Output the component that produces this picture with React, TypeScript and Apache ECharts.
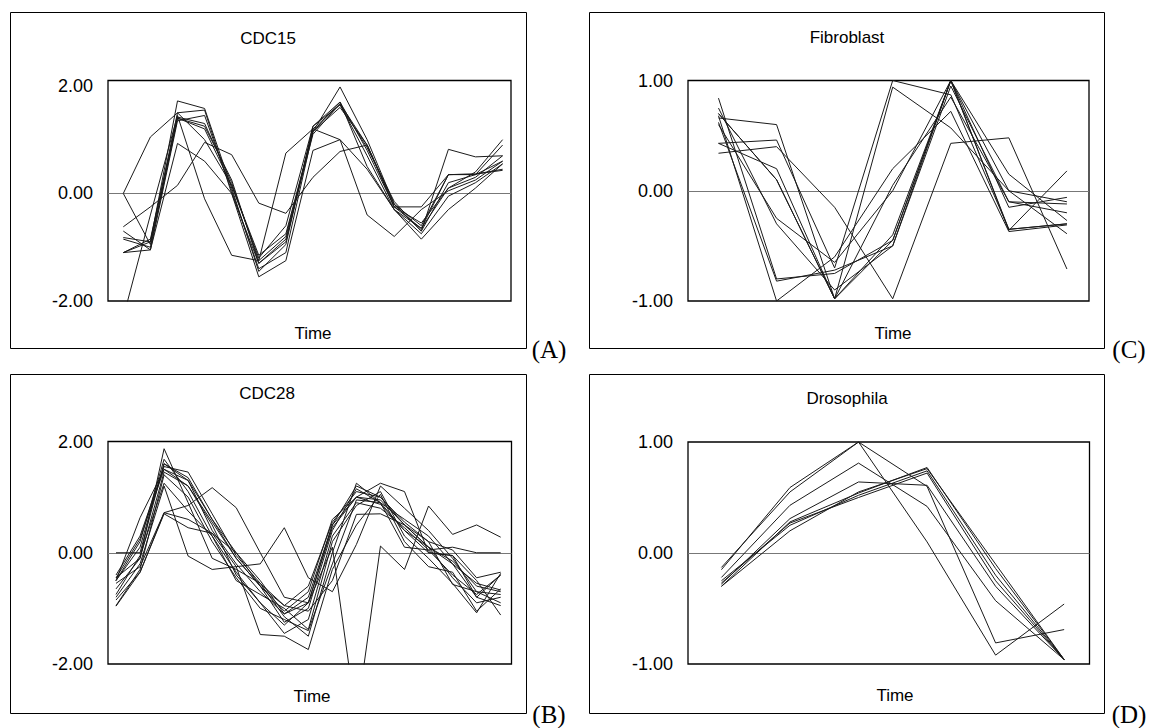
import React, { useEffect, useRef } from "react";
import * as echarts from "echarts";

// ---------- data ----------
const panelTitles = ["CDC15", "CDC28", "Fibroblast", "Drosophila"];
const panelTags = ["(A)", "(B)", "(C)", "(D)"];
const axisTitle = "Time";

const cdcTicks = [-2, 0, 2];
const cdcTickLabels = ["-2.00", "0.00", "2.00"];
const normTicks = [-1, 0, 1];
const normTickLabels = ["-1.00", "0.00", "1.00"];

const cdc15Series = [
  [0.0, 1.05, 1.5, 1.0, 0.15, -1.15, -0.75, 1.15, 1.7, 0.8, -0.25, -0.65, 0.1, 0.3, 0.7],
  [0.0, -0.95, 1.4, 1.25, 0.25, -1.3, -0.9, 1.2, 1.65, 0.85, -0.15, -0.7, 0.2, 0.35, 0.6],
  [-0.62, -0.25, 0.15, 0.95, 0.72, -0.18, -0.37, 0.3, 0.78, 0.9, -0.25, -0.25, 0.35, 0.36, 0.43],
  [-0.82, -0.9, 1.72, 1.58, 0.1, -1.45, -0.95, 1.25, 1.65, 0.7, -0.3, -0.75, -0.05, 0.2, 0.55],
  [-1.1, -0.85, 1.42, 1.3, 0.2, -1.25, -0.8, 1.15, 1.6, 0.9, -0.2, -0.6, 0.35, 0.35, 0.9],
  [-2.3, -0.4, 1.45, -0.1, -1.15, -1.25, 0.75, 1.2, 1.0, -0.4, -0.8, -0.3, 0.05, 0.25, 0.6],
  [-0.7, -1.05, 0.93, 0.6, 0.0, -1.55, -1.25, 0.8, 1.0, 0.45, -0.3, -0.85, -0.3, 0.1, 0.55],
  [-1.1, -1.05, 1.35, 1.45, 0.05, -1.4, -1.1, 1.15, 1.98, 1.0, -0.2, -0.7, 0.82, 0.68, 0.7],
  [-0.85, -1.0, 1.4, 1.2, 0.15, -1.2, -0.6, 1.25, 1.7, 0.5, -0.3, -0.65, 0.35, 0.36, 0.45],
  [-1.1, -0.9, 1.5, 1.55, 0.0, -1.3, -0.85, 1.1, 1.67, 0.9, -0.25, -0.55, 0.1, 0.4, 1.0],
];

const cdc28Series = [
  [0.0, 0.0, 1.6, 1.35, 0.6, -0.1, -0.6, -1.05, -0.7, 0.6, 1.0, 0.95, 0.5, 0.1, -0.15, -0.6, -0.7],
  [-0.5, 0.63, 1.5, 1.3, 0.4, -0.2, -0.7, -1.1, -0.8, 0.5, 1.2, 1.0, 0.5, 0.1, -0.2, -0.8, -0.95],
  [-0.45, -0.1, 1.87, 0.9, -0.1, -0.3, -0.55, -1.15, -1.5, 0.0, 1.25, 0.9, 0.1, 0.05, -0.4, -0.75, -0.4],
  [-0.8, -0.2, 1.2, -0.06, -0.3, -0.25, -1.47, -1.5, -1.74, -0.3, 0.5, 1.05, 0.2, -0.25, -0.35, -1.05, -0.65],
  [-0.55, -0.25, 0.72, 0.85, 1.17, 0.81, 0.0, -0.8, -0.9, 0.45, 1.0, 1.25, 1.1, 0.0, -0.05, -0.5, -1.12],
  [-0.96, -0.35, 0.72, 0.6, 0.35, -0.25, -0.2, 0.45, -0.45, -0.7, 0.15, 1.2, 0.8, 0.4, -0.1, -0.7, -0.75],
  [-0.65, -0.1, 1.45, 1.2, 0.5, -0.4, -0.9, -1.3, -0.9, 0.1, -3.0, 0.12, -0.3, 0.84, 0.33, 0.5, 0.28],
  [-0.95, -0.3, 1.4, 1.0, 0.2, -0.45, -1.0, -1.2, -1.4, -0.2, 0.95, 0.9, 0.4, 0.1, -0.45, -0.9, -0.8],
  [-0.4, 0.3, 1.55, 1.45, 0.7, -0.05, -0.55, -0.95, -0.6, 0.55, 1.1, 1.0, 0.55, 0.2, 0.05, -0.45, -0.35],
  [-0.5, 0.2, 1.68, 1.1, 0.3, -0.35, -0.9, -1.45, -1.2, 0.3, 0.9, 0.8, 0.45, 0.05, 0.1, 0.0, 0.0],
  [-0.75, -0.05, 1.25, 0.75, 0.3, -0.5, -0.75, -1.0, -1.38, 0.2, 0.85, 1.1, 0.3, -0.1, -0.55, -1.08, -0.37],
  [-0.45, 0.25, 1.5, 1.2, 0.55, -0.1, -0.6, -1.25, -1.0, 0.4, 1.15, 0.9, 0.6, 0.3, -0.2, -0.55, -0.67],
  [-0.85, -0.35, 0.7, 0.45, 0.35, 0.0, -0.6, -0.95, -1.05, -0.5, 0.69, 0.7, 0.5, 0.2, -0.57, -0.7, -0.9],
  [-0.5, 0.1, 1.6, 1.3, 0.6, 0.0, -0.5, -1.1, -0.9, 0.5, 1.0, 0.87, 0.4, 0.0, -0.05, -0.8, -0.4],
];

const fibroblastSeries = [
  [0.84, -0.8, -0.75, -0.45, 1.0, -0.35, -0.3],
  [0.66, 0.6, -0.98, -0.4, 1.0, 0.0, -0.1],
  [0.43, 0.46, -0.7, 1.0, 0.87, -0.35, -0.3],
  [0.34, 0.4, -0.15, -0.98, 0.43, 0.48, -0.71],
  [0.7, 0.1, -0.98, -0.45, 1.0, -0.36, 0.18],
  [0.6, -0.25, -0.65, 0.0, 1.0, 0.15, -0.27],
  [0.75, -0.3, -0.9, -0.5, 0.95, -0.1, -0.2],
  [0.43, 0.2, -0.98, 0.94, 0.57, 0.0, -0.39],
  [0.68, -1.0, -0.6, 0.2, 0.72, -0.37, -0.31],
  [0.62, -0.82, -0.72, -0.5, 1.0, -0.15, -0.06],
  [0.7, 0.1, -0.98, 0.05, 0.85, -0.1, -0.12],
];

const drosophilaSeries = [
  [-0.15, 0.59, 1.0, 0.1, -0.92, -0.46],
  [-0.13, 0.55, 1.0, 0.6, -0.81, -0.69],
  [-0.22, 0.43, 0.81, 0.42, -0.43, -0.96],
  [-0.28, 0.31, 0.64, 0.61, -0.3, -0.96],
  [-0.3, 0.28, 0.54, 0.77, -0.14, -0.96],
  [-0.25, 0.25, 0.52, 0.74, -0.2, -0.96],
  [-0.3, 0.2, 0.55, 0.76, -0.1, -0.96],
  [-0.27, 0.27, 0.5, 0.72, -0.25, -0.96],
];

// ---------- layout (positions / styles) ----------
const layouts = [
  { frame: [10, 12, 516, 336], grid: { left: 108, top: 80.5, width: 403, height: 220.5 }, xMin: -0.565, xMax: 14.31, yMin: -2, yMax: 2.1, title: [268, 38], time: [313, 333], tag: [549, 349] },
  { frame: [10, 374, 516, 339], grid: { left: 108, top: 441.5, width: 403.5, height: 222.5 }, xMin: -0.333, xMax: 16.45, yMin: -2, yMax: 2, title: [267, 393], time: [312, 696], tag: [549, 714] },
  { frame: [589, 12, 515, 336], grid: { left: 688, top: 80.5, width: 401, height: 220.5 }, xMin: -0.525, xMax: 6.38, yMin: -1, yMax: 1, title: [847, 37], time: [893, 333], tag: [1129, 349] },
  { frame: [589, 374, 515, 339], grid: { left: 688, top: 442, width: 401.5, height: 222 }, xMin: -0.488, xMax: 5.37, yMin: -1, yMax: 1, title: [847, 398], time: [895, 695], tag: [1129, 714] },
];

const panelData = [cdc15Series, cdc28Series, fibroblastSeries, drosophilaSeries];
const panelTicks = [cdcTicks, cdcTicks, normTicks, normTicks];
const panelTickLabels = [cdcTickLabels, cdcTickLabels, normTickLabels, normTickLabels];

const SANS = "Liberation Sans, Arial, sans-serif";
const SERIF = "Liberation Serif, Times New Roman, serif";

export default function App() {
  const ref = useRef<HTMLDivElement>(null);

  useEffect(() => {
    if (!ref.current) return;
    const chart = echarts.init(ref.current, undefined, { renderer: "svg" });

    const grids: any[] = [];
    const xAxes: any[] = [];
    const yAxes: any[] = [];
    const series: any[] = [];
    const graphics: any[] = [];

    layouts.forEach((L, p) => {
      grids.push({
        left: L.grid.left,
        top: L.grid.top,
        width: L.grid.width,
        height: L.grid.height,
        show: true,
        borderColor: "#000",
        borderWidth: 1.3,
        backgroundColor: "transparent",
        containLabel: false,
      });
      xAxes.push({
        type: "value",
        gridIndex: p,
        min: L.xMin,
        max: L.xMax,
        show: false,
        splitLine: { show: false },
      });
      const ticks = panelTicks[p];
      const labels = panelTickLabels[p];
      yAxes.push({
        type: "value",
        gridIndex: p,
        min: L.yMin,
        max: L.yMax,
        interval: ticks[1] - ticks[0],
        axisLine: { show: false },
        axisTick: { show: false },
        splitLine: { show: false },
        axisLabel: {
          margin: 15,
          color: "#000",
          fontFamily: SANS,
          fontSize: 18,
          formatter: (v: number) => {
            const k = ticks.findIndex((t) => Math.abs(t - v) < 1e-6);
            return k >= 0 ? labels[k] : "";
          },
        },
      });
      panelData[p].forEach((vals, s) => {
        series.push({
          type: "line",
          xAxisIndex: p,
          yAxisIndex: p,
          data: vals.map((v, i) => [i, v]),
          showSymbol: false,
          symbol: "none",
          clip: true,
          silent: true,
          lineStyle: { color: "#1a1a1a", width: 1 },
          z: 3,
          markLine:
            s === 0
              ? {
                  silent: true,
                  symbol: ["none", "none"],
                  label: { show: false },
                  lineStyle: { color: "#777", width: 1, type: "solid" },
                  data: [{ yAxis: 0 }],
                  z: 2,
                }
              : undefined,
        });
      });

      const [fx, fy, fw, fh] = L.frame;
      graphics.push({
        type: "rect",
        shape: { x: fx + 0.5, y: fy + 0.5, width: fw, height: fh },
        style: { fill: "none", stroke: "#000", lineWidth: 1 },
        silent: true,
      });
      graphics.push({
        type: "text",
        x: L.title[0],
        y: L.title[1],
        style: { text: panelTitles[p], fill: "#000", font: `17px ${SANS}`, align: "center", verticalAlign: "middle" },
      });
      graphics.push({
        type: "text",
        x: L.time[0],
        y: L.time[1],
        style: { text: axisTitle, fill: "#000", font: `17px ${SANS}`, align: "center", verticalAlign: "middle" },
      });
      graphics.push({
        type: "text",
        x: L.tag[0],
        y: L.tag[1],
        style: { text: panelTags[p], fill: "#000", font: `25px ${SERIF}`, align: "center", verticalAlign: "middle" },
      });
    });

    chart.setOption({
      animation: false,
      backgroundColor: "#fff",
      grid: grids,
      xAxis: xAxes,
      yAxis: yAxes,
      series,
      graphic: graphics,
    });

    return () => chart.dispose();
  }, []);

  return (
    <div
      ref={ref}
      style={{ position: "fixed", left: 0, top: 0, width: 1149, height: 728, background: "#fff" }}
    />
  );
}
